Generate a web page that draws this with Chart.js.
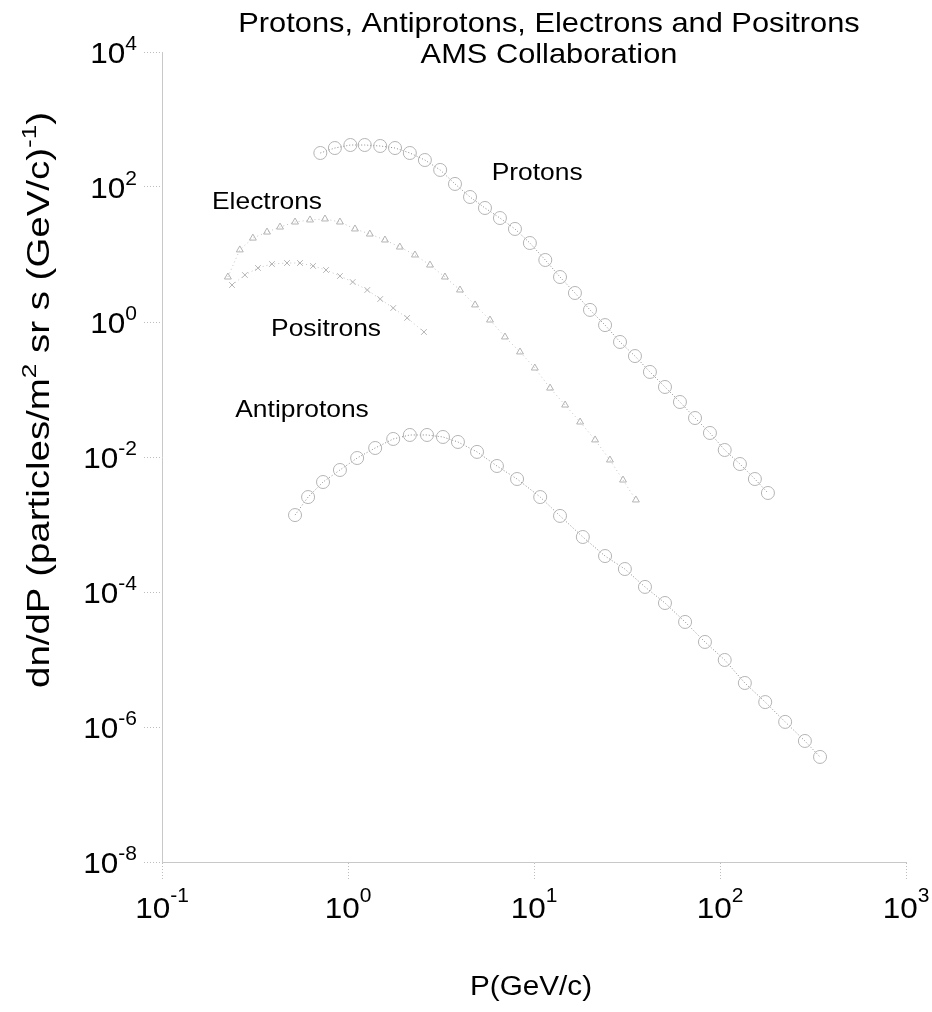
<!DOCTYPE html>
<html>
<head>
<meta charset="utf-8">
<title>AMS spectra</title>
<script src="https://cdn.jsdelivr.net/npm/chart.js@4.4.1/dist/chart.umd.min.js"></script>
<style>
  html, body { margin: 0; padding: 0; background: #fff; }
  #wrap { position: relative; width: 932px; height: 1012px; }
</style>
</head>
<body>
<div id="wrap"><canvas id="chart"></canvas></div>
<script>
// ---- values (P in GeV/c, flux in particles/m2 sr s GeV/c) ----
const protonP = [0.71, 0.85, 1.03, 1.23, 1.49, 1.79, 2.15, 2.59, 3.13, 3.76, 4.53, 5.45, 6.56, 7.90, 9.5,
  11.5, 13.8, 16.6, 20.0, 24.1, 29.0, 34.9, 42.0, 50.6, 60.9, 73.4, 88.3, 106, 128, 154, 181];
const protonFlux = [319, 378, 419, 419, 405, 378, 319, 251, 179, 111, 71.1, 48.9, 34.7, 23.9, 14.8,
  8.29, 4.64, 2.69, 1.51, 0.90, 0.506, 0.313, 0.182, 0.109, 0.0653, 0.0378, 0.0227, 0.0127, 0.00787, 0.00472, 0.00293];

const electronP = [0.226, 0.262, 0.308, 0.367, 0.431, 0.519, 0.625, 0.752, 0.905, 1.09, 1.31, 1.58, 1.90, 2.29,
  2.76, 3.32, 4.00, 4.82, 5.80, 6.98, 8.41, 10.1, 12.2, 14.7, 17.7, 21.3, 25.6, 30.1, 35.3];
const electronFlux = [4.64, 11.7, 17.5, 21.5, 25.5, 30.3, 32.5, 33.6, 30.3, 23.9, 20.1, 16.4, 12.9, 9.84,
  6.98, 4.64, 2.98, 1.79, 1.07, 0.600, 0.360, 0.208, 0.105, 0.0589, 0.0330, 0.0179, 0.00903, 0.00456, 0.00231];

const positronP = [0.238, 0.279, 0.328, 0.390, 0.470, 0.552, 0.649, 0.762, 0.905, 1.06, 1.27, 1.49, 1.75, 2.08, 2.56];
const positronFlux = [3.53, 4.97, 6.31, 7.23, 7.48, 7.48, 6.76, 5.89, 4.80, 3.91, 2.98, 2.19, 1.61, 1.15, 0.711];

const antiprotonP = [0.519, 0.610, 0.734, 0.905, 1.12, 1.40, 1.75, 2.15, 2.66, 3.24, 3.90, 4.94, 6.32, 8.11,
  10.8, 13.8, 18.3, 24.1, 30.8, 39.5, 50.6, 64.9, 83.0, 106, 136, 175, 224, 286, 345];
const antiprotonFlux = [1.38e-3, 2.55e-3, 4.26e-3, 6.42e-3, 9.66e-3, 0.0136, 0.0185, 0.0212, 0.0212, 0.0198,
  0.0167, 0.0119, 7.36e-3, 4.72e-3, 2.55e-3, 1.34e-3, 6.53e-4, 3.41e-4, 2.19e-4, 1.19e-4, 6.87e-5, 3.60e-5,
  1.82e-5, 9.84e-6, 4.49e-6, 2.34e-6, 1.19e-6, 6.21e-7, 3.60e-7];

const xTickValues = [0.1, 1, 10, 100, 1000];
const yTickValues = [1e-8, 1e-6, 1e-4, 1e-2, 1, 1e2, 1e4];

const titleLines = ["Protons, Antiprotons, Electrons and Positrons", "AMS Collaboration"];
const xTitle = "P(GeV/c)";
const yTitle = [
  { t: "dn/dP (particles/m" }, { t: "2", sup: true }, { t: " sr s (GeV/c)" }, { t: "-1", sup: true }, { t: ")" }
];

// curve names, anchored in data coordinates
const curveNames = ["Protons", "Electrons", "Positrons", "Antiprotons"];
const curveNameP = [10.4, 0.367, 0.762, 0.566];
const curveNameFlux = [167, 64, 0.84, 0.053];

// ---- drawing helpers ----
const FONT = "'Liberation Sans', Arial, Helvetica, sans-serif";
const STRETCH = 1.1;

function toPoints(xs, ys) {
  return xs.map((v, i) => ({ x: v, y: ys[i] }));
}

function drawRich(ctx, parts, x, y, size, align, stretch, rise) {
  const supSize = Math.round(size * 0.68);
  const supRise = rise || size * 0.42;
  const widths = parts.map(p => {
    ctx.font = (p.sup ? supSize : size) + "px " + FONT;
    return ctx.measureText(p.t).width;
  });
  const total = widths.reduce((a, b) => a + b, 0) * stretch;
  let start = x;
  if (align === "right") start = x - total;
  else if (align === "center") start = x - total / 2;

  ctx.save();
  ctx.translate(start, y);
  ctx.scale(stretch, 1);
  ctx.textAlign = "left";
  ctx.textBaseline = "alphabetic";
  let cx = 0;
  parts.forEach((p, i) => {
    ctx.font = (p.sup ? supSize : size) + "px " + FONT;
    ctx.fillText(p.t, cx, p.sup ? -supRise : 0);
    cx += widths[i];
  });
  ctx.restore();
}

function powerParts(v) {
  return [{ t: "10" }, { t: String(Math.round(Math.log10(v))), sup: true }];
}

const textPlugin = {
  id: "texts",
  afterDraw(chart) {
    const { ctx } = chart;
    const xs = chart.scales.x;
    const ys = chart.scales.y;
    ctx.save();
    ctx.fillStyle = "#000";

    // tick labels
    yTickValues.forEach(v => drawRich(ctx, powerParts(v), 137, ys.getPixelForValue(v) + 11, 30, "right", 1.05));
    xTickValues.forEach(v => drawRich(ctx, powerParts(v), xs.getPixelForValue(v), 918, 30, "center", 1.05, 16));

    // title
    drawRich(ctx, [{ t: titleLines[0] }], 549, 32, 28, "center", STRETCH);
    drawRich(ctx, [{ t: titleLines[1] }], 549, 63, 28, "center", STRETCH);

    // axis titles
    drawRich(ctx, [{ t: xTitle }], 531, 995, 27, "center", STRETCH);
    ctx.save();
    ctx.translate(49, 400);
    ctx.rotate(-Math.PI / 2);
    drawRich(ctx, yTitle, 0, 0, 31, "center", 1.24);
    ctx.restore();

    // curve names
    curveNames.forEach((name, i) => {
      const px = xs.getPixelForValue(curveNameP[i]);
      const py = ys.getPixelForValue(curveNameFlux[i]);
      drawRich(ctx, [{ t: name }], px, py + 8.5, 24, "center", STRETCH);
    });
    ctx.restore();
  }
};

const axisStyle = {
  ticks: { display: false },
  grid: {
    drawOnChartArea: false,
    drawTicks: true,
    tickLength: 18,
    tickColor: "#bdbdbd",
    tickWidth: 1,
    tickBorderDash: [1, 2]
  },
  border: { display: true, color: "#c8c8c8", width: 1, dash: [1, 3] }
};

new Chart(document.getElementById("chart"), {
  type: "scatter",
  data: {
    datasets: [
      {
        label: "Protons",
        data: toPoints(protonP, protonFlux),
        showLine: true,
        borderColor: "#8a8a8a",
        borderWidth: 1,
        borderDash: [1, 2],
        pointStyle: "circle",
        pointRadius: 6.5,
        pointBorderWidth: 1,
        pointBorderColor: "#b4b4b4",
        pointBackgroundColor: "rgba(0,0,0,0)"
      },
      {
        label: "Electrons",
        data: toPoints(electronP, electronFlux),
        showLine: true,
        borderColor: "#c4c4c4",
        borderWidth: 1,
        borderDash: [1, 3],
        pointStyle: "triangle",
        pointRadius: 4,
        pointBorderWidth: 1,
        pointBorderColor: "#b4b4b4",
        pointBackgroundColor: "rgba(0,0,0,0)"
      },
      {
        label: "Positrons",
        data: toPoints(positronP, positronFlux),
        showLine: true,
        borderColor: "#c4c4c4",
        borderWidth: 1,
        borderDash: [1, 3],
        pointStyle: "crossRot",
        pointRadius: 4,
        pointBorderWidth: 1,
        pointBorderColor: "#b4b4b4",
        pointBackgroundColor: "rgba(0,0,0,0)"
      },
      {
        label: "Antiprotons",
        data: toPoints(antiprotonP, antiprotonFlux),
        showLine: true,
        borderColor: "#8a8a8a",
        borderWidth: 1,
        borderDash: [1, 2],
        pointStyle: "circle",
        pointRadius: 6.5,
        pointBorderWidth: 1,
        pointBorderColor: "#b4b4b4",
        pointBackgroundColor: "rgba(0,0,0,0)"
      }
    ]
  },
  options: {
    responsive: true,
    maintainAspectRatio: false,
    animation: false,
    layout: { padding: { top: 52, right: 26, bottom: 0, left: 0 } },
    plugins: { legend: { display: false }, tooltip: { enabled: false } },
    scales: {
      x: {
        ...axisStyle,
        type: "logarithmic",
        min: 0.1,
        max: 1000,
        afterBuildTicks: s => { s.ticks = xTickValues.map(v => ({ value: v })); },
        afterFit: s => { s.height = 150; }
      },
      y: {
        ...axisStyle,
        type: "logarithmic",
        min: 1e-8,
        max: 1e4,
        afterBuildTicks: s => { s.ticks = yTickValues.map(v => ({ value: v })); },
        afterFit: s => { s.width = 162; }
      }
    }
  },
  plugins: [textPlugin]
});
</script>
</body>
</html>
